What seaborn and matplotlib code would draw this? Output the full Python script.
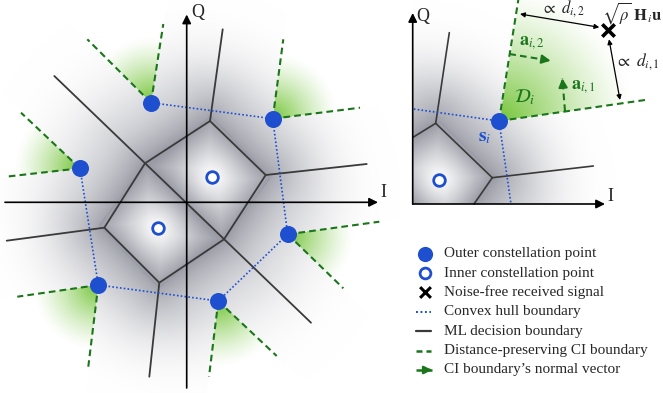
import numpy as np
import matplotlib
matplotlib.use("Agg")
import matplotlib.pyplot as plt
import seaborn as sns
import pandas as pd

sns.set_theme(style="white")
plt.rcParams["font.family"] = ["Liberation Serif", "DejaVu Serif"]
plt.rcParams["mathtext.fontset"] = "stix"

# ---------------- constellation (left panel, I/Q units) ----------------
outer_i = [-35.7, 86.0, -106.7, 101.0, -88.4, 31.6]
outer_q = [99.6, 83.6, 34.0, -32.0, -82.7, -98.7]
inner_i = [25.6, -29.0]
inner_q = [25.6, -26.0]
hull_order = [0, 1, 3, 5, 4, 2, 0]

# ML decision boundaries: inner hexagon, the splitting diagonal, outward rays
hex_i = [23.3, 79.0, 37.3, -27.4, -82.4, -41.7]
hex_q = [81.3, 27.3, -37.0, -80.4, -25.4, 39.0]
diag_i = [-132.4, 124.3]
diag_q = [126.3, -120.4]
ray_from = [0, 1, 3, 4]
ray_end_i = [36.0, 180.0, -37.4, -180.0]
ray_end_q = [173.0, 38.3, -174.4, -38.4]

# distance-preserving CI boundaries: two rays per outer point
ci_a_i = [-23.4, 96.6, -165.7, 192.6, -169.4, 22.3]
ci_a_q = [178.3, 163.0, 89.6, -19.4, -94.4, -174.4]
ci_b_i = [-99.4, 173.3, -180.7, 156.6, -98.4, 90.0]
ci_b_q = [163.0, 94.6, 25.6, -86.0, -164.4, -153.7]

# ---------------- zoomed view (right panel) ----------------
zs = [86.3, 83.0]
zin = [26.3, 24.0]
z_hull_end_i = [0.6, 98.3]
z_hull_end_q = [95.0, 0.0]
z_v1 = [23.0, 80.7]
z_v2 = [79.6, 26.3]
z_v1_ends = [[36.6, 171.3], [0.3, 66.7]]
z_v2_ends = [[180.6, 38.0], [61.3, 0.0]]
z_ci_ends = [[105.6, 204.0], [232.3, 104.0]]
a2_start, a2_end = [96.6, 150.0], [138.0, 143.3]
a1_start, a1_end = [152.3, 93.0], [149.6, 125.7]
rx = [195.6, 174.0]
d2_arrow = [[107.3, 190.0], [186.6, 176.7]]
d1_arrow = [[196.3, 164.7], [207.3, 104.0]]

legend_labels = [
    "Outer constellation point",
    "Inner constellation point",
    "Noise-free received signal",
    "Convex hull boundary",
    "ML decision boundary",
    "Distance-preserving CI boundary",
    "CI boundary\u2019s normal vector",
]

BLUE = "#1d4fcf"
GREEN = "#1b751b"
GREEN_FILL = np.array([116, 196, 56]) / 255.0
GRAY = np.array([132, 134, 146]) / 255.0
LINE = "#3a3a3a"
HULL_LS = (0, (1.0, 1.3))
CI_LS = (0, (3.2, 2.0))


def smoothstep(x):
    x = np.clip(x, 0, 1)
    return x * x * (3 - 2 * x)


def poly_dist(X, Y, px, py):
    """Euclidean distance from each grid node to a convex polygon (0 inside)."""
    n = len(px)
    dmin = np.full(X.shape, np.inf)
    inside = np.ones(X.shape, bool)
    area = sum(px[k] * py[(k + 1) % n] - px[(k + 1) % n] * py[k] for k in range(n))
    sgn = np.sign(area)
    for k in range(n):
        ax_, ay_ = px[k], py[k]
        bx_, by_ = px[(k + 1) % n], py[(k + 1) % n]
        ex, ey = bx_ - ax_, by_ - ay_
        t = np.clip(((X - ax_) * ex + (Y - ay_) * ey) / (ex * ex + ey * ey), 0, 1)
        dmin = np.minimum(dmin, np.hypot(X - ax_ - t * ex, Y - ay_ - t * ey))
        inside &= sgn * (ex * (Y - ay_) - ey * (X - ax_)) >= 0
    return np.where(inside, 0.0, dmin)


def shade(X, Y, pts, n_inner, core_x, core_y, wedges, g_len,
          out_len=48.0, r_full=110, r_zero=215, amax=0.82):
    """Inner cells: light at the point, grey towards the ML borders.
    Outer cells: grey next to the inner core, fading outwards.
    CI wedges are left white with a green glow from their apex."""
    P = np.asarray(pts, dtype=float)
    D2 = (X[None] - P[:, 0, None, None]) ** 2 + (Y[None] - P[:, 1, None, None]) ** 2
    i1 = D2.argmin(axis=0)
    d1sq = np.take_along_axis(D2, i1[None], axis=0)[0]
    M = np.hypot(P[:, None, 0] - P[None, :, 0], P[:, None, 1] - P[None, :, 1])
    bdist = np.full(X.shape, np.inf)
    for j in range(len(P)):
        with np.errstate(divide="ignore", invalid="ignore"):
            bj = np.where(i1 == j, np.inf, (D2[j] - d1sq) / (2 * M[i1, j]))
        bdist = np.minimum(bdist, bj)
    d1 = np.sqrt(d1sq)
    t_in = (d1 / (d1 + bdist + 1e-9)) ** 1.25
    dh = poly_dist(X, Y, core_x, core_y)
    t_out = np.exp(-dh / out_len)
    dark = np.where(i1 < n_inner, t_in, t_out)
    r = np.hypot(X, Y)
    fade = 1 - smoothstep((r - r_full) / (r_zero - r_full))
    a = amax * dark * fade
    green = np.zeros_like(X)
    for (p, e1, e2) in wedges:
        p = np.asarray(p); u1 = np.asarray(e1) - p; u2 = np.asarray(e2) - p
        vx, vy = X - p[0], Y - p[1]
        det = u1[0] * u2[1] - u1[1] * u2[0]
        ca = (vx * u2[1] - vy * u2[0]) / det
        cb = (u1[0] * vy - u1[1] * vx) / det
        inside = (ca >= 0) & (cb >= 0)
        a = np.where(inside, 0.0, a)
        g = np.clip(1 - np.hypot(vx, vy) / g_len, 0, 1) ** 1.3
        green = np.where(inside, np.maximum(green, g), green)
    img = np.ones(X.shape + (3,))
    img = img * (1 - a[..., None]) + GRAY * a[..., None]
    img = img * (1 - green[..., None]) + GREEN_FILL * green[..., None]
    return np.clip(img, 0, 1)


def arrow_axis(ax, start, end):
    ax.annotate("", xy=end, xytext=start,
                arrowprops=dict(arrowstyle="-|>", color="black", lw=1.2,
                                mutation_scale=13, shrinkA=0, shrinkB=0))


def dashed_arrow(ax, start, end, lw=1.5, ms=13, ls=CI_LS):
    s = np.asarray(start); e = np.asarray(end)
    ax.plot([s[0], e[0]], [s[1], e[1]], color=GREEN, lw=lw, ls=ls)
    ax.annotate("", xy=e, xytext=s + 0.8 * (e - s),
                arrowprops=dict(arrowstyle="-|>", color=GREEN, lw=lw,
                                mutation_scale=ms, shrinkA=0, shrinkB=0))


W, H = 663, 393
fig = plt.figure(figsize=(W / 100, H / 100), dpi=100)

# ============ left panel ============
ox, oy = 186.7, 202.3
axL = fig.add_axes([0, 0, 400 / W, 1])
axL.set_xlim(-ox, 400 - ox)
axL.set_ylim(-(H - oy), oy)
axL.axis("off")

xs = np.linspace(-ox, 400 - ox, 400)
ys = np.linspace(-(H - oy), oy, 393)
X, Y = np.meshgrid(xs, ys)
all_pts = list(zip(inner_i + outer_i, inner_q + outer_q))
wedges = [((outer_i[k], outer_q[k]), (ci_a_i[k], ci_a_q[k]), (ci_b_i[k], ci_b_q[k]))
          for k in range(len(outer_i))]
imgL = shade(X, Y, all_pts, len(inner_i), hex_i, hex_q, wedges, 66)
axL.imshow(imgL, extent=[xs[0], xs[-1], ys[0], ys[-1]], origin="lower",
           interpolation="bilinear", zorder=0, aspect="auto")

# CI boundaries
for k in range(len(outer_i)):
    for ei, eq in ((ci_a_i[k], ci_a_q[k]), (ci_b_i[k], ci_b_q[k])):
        axL.plot([outer_i[k], ei], [outer_q[k], eq], color=GREEN, lw=1.5, ls=CI_LS, zorder=2)

# ML boundaries
axL.plot(hex_i + hex_i[:1], hex_q + hex_q[:1], color=LINE, lw=1.3, zorder=2)
axL.plot(diag_i, diag_q, color=LINE, lw=1.3, zorder=2)
for k, v in enumerate(ray_from):
    axL.plot([hex_i[v], ray_end_i[k]], [hex_q[v], ray_end_q[k]], color=LINE, lw=1.3, zorder=2)

# convex hull
hull_df = pd.DataFrame({"I": [outer_i[k] for k in hull_order],
                        "Q": [outer_q[k] for k in hull_order],
                        "step": range(len(hull_order))})
sns.lineplot(data=hull_df, x="I", y="Q", sort=False, ax=axL, color=BLUE,
             lw=1.2, linestyle=HULL_LS, zorder=3, legend=False)

# axes
arrow_axis(axL, (-181.7, 0), (191.3, 0))
arrow_axis(axL, (0, -185.7), (0, 187.8))
axL.text(11.3, 190.3, "Q", fontsize=13, ha="center", va="center")
axL.text(196.5, 9.5, "I", fontsize=13, ha="center", va="center")

pts_df = pd.DataFrame({"I": outer_i, "Q": outer_q})
sns.scatterplot(data=pts_df, x="I", y="Q", ax=axL, s=150, color=BLUE,
                edgecolor=BLUE, linewidth=0, zorder=5, legend=False)
inn_df = pd.DataFrame({"I": inner_i, "Q": inner_q})
sns.scatterplot(data=inn_df, x="I", y="Q", ax=axL, s=70, facecolor="white",
                edgecolor=BLUE, linewidth=2.0, zorder=5, legend=False)
axL.set_xlabel(""); axL.set_ylabel("")

# ============ right panel ============
rox, roy = 412.7, 204.0
rtop = 215
axR = fig.add_axes([400 / W, (H - rtop) / H, 263 / W, rtop / H])
axR.set_xlim(400 - rox, W - rox)
axR.set_ylim(roy - rtop, roy)
axR.axis("off")


def reflect(p, a, b):
    p, a, b = map(np.asarray, (p, a, b))
    d = (b - a) / np.linalg.norm(b - a)
    v = p - a
    return a + 2 * (v @ d) * d - v


def extend(a, b, k=3.0):
    a, b = np.asarray(a), np.asarray(b)
    return a + k * (b - a)


# neighbouring points implied by the drawn boundaries (reflections)
zpts = [zin, [-zin[0], -zin[1]], zs,
        reflect(zs, z_v1, z_v1_ends[0]), reflect(zin, z_v1, z_v1_ends[1]),
        reflect(zs, z_v2, z_v2_ends[0]), reflect(zin, z_v2, z_v2_ends[1])]
# inner core: region bounded by the V1-V2 edge and its two continuations
pL = extend(z_v1, z_v1_ends[1])
pB = extend(z_v2, z_v2_ends[1])
core_x = [z_v1[0], pL[0], pB[0], z_v2[0]]
core_y = [z_v1[1], pL[1], pB[1], z_v2[1]]
xs2 = np.linspace(0, W - rox, 250)
ys2 = np.linspace(0, roy, 204)
X2, Y2 = np.meshgrid(xs2, ys2)
imgR = shade(X2, Y2, zpts, 2, core_x, core_y, [(zs, z_ci_ends[0], z_ci_ends[1])], 135,
             out_len=52.0, r_full=105, r_zero=205)
axR.imshow(imgR, extent=[xs2[0], xs2[-1], ys2[0], ys2[-1]], origin="lower",
           interpolation="bilinear", zorder=0, aspect="auto")

for e in z_ci_ends:
    axR.plot([zs[0], e[0]], [zs[1], e[1]], color=GREEN, lw=1.5, ls=CI_LS, zorder=2)
for v, ends in ((z_v1, z_v1_ends), (z_v2, z_v2_ends)):
    for e in ends:
        axR.plot([v[0], e[0]], [v[1], e[1]], color=LINE, lw=1.2, zorder=2)
axR.plot([z_v1[0], z_v2[0]], [z_v1[1], z_v2[1]], color=LINE, lw=1.2, zorder=2)
for hi, hq in zip(z_hull_end_i, z_hull_end_q):
    axR.plot([zs[0], hi], [zs[1], hq], color=BLUE, lw=1.2, ls=HULL_LS, zorder=3)

dashed_arrow(axR, a2_start, a2_end)
dashed_arrow(axR, a1_start, a1_end)

for s, e in (d2_arrow, d1_arrow):
    axR.annotate("", xy=e, xytext=s,
                 arrowprops=dict(arrowstyle="<|-|>", color="black", lw=0.9,
                                 mutation_scale=7, shrinkA=0, shrinkB=0))

arrow_axis(axR, (0, 0), (192.3, 0))
arrow_axis(axR, (0, 0), (0, 191.0))
axR.text(10, 188, "Q", fontsize=13, ha="center", va="center")
axR.text(197.5, 7.5, "I", fontsize=13, ha="center", va="center")

sns.scatterplot(x=[zs[0]], y=[zs[1]], ax=axR, s=150, color=BLUE, linewidth=0,
                zorder=5, legend=False)
sns.scatterplot(x=[zin[0]], y=[zin[1]], ax=axR, s=70, facecolor="white",
                edgecolor=BLUE, linewidth=2.0, zorder=5, legend=False)
sns.scatterplot(x=[rx[0]], y=[rx[1]], ax=axR, s=80, marker="x", color="black",
                linewidth=2.6, zorder=5, legend=False)

axR.text(150.3, 195.0, r"$\propto\ d_{i,2}$", fontsize=12, ha="center", va="center")
axR.text(249.0, 191.0, r"$\sqrt{\rho}\ \mathbf{H}_i\mathbf{u}$", fontsize=12,
         ha="right", va="center")
axR.text(224.5, 142, r"$\propto\ d_{i,1}$", fontsize=12.5, ha="center", va="center")
axR.text(119.5, 162, r"$\mathbf{a}_{i,2}$", fontsize=13, color=GREEN, ha="center", va="center")
axR.text(170.5, 118, r"$\mathbf{a}_{i,1}$", fontsize=13, color=GREEN, ha="center", va="center")
axR.text(112.5, 107, r"$\mathcal{D}_i$", fontsize=14, color=GREEN, ha="center", va="center")
axR.text(72.5, 67, r"$\mathbf{s}_i$", fontsize=14, color=BLUE, ha="center", va="center")

# ============ legend ============
axG = fig.add_axes([400 / W, 0, 263 / W, 163 / H])
axG.set_xlim(400, W)
axG.set_ylim(H, 230)
axG.axis("off")
rows = [254.0, 273.3, 292.3, 311.7, 331.0, 350.7, 370.0]
mx, x0, x1 = 425, 415.5, 430.5
LEG_DASH = (0, (2.4, 1.6))
axG.scatter([mx], [rows[0]], s=120, color=BLUE, linewidth=0)
axG.scatter([mx], [rows[1]], s=60, facecolor="white", edgecolor=BLUE, linewidth=2.0)
axG.scatter([mx], [rows[2]], s=60, marker="x", color="black", linewidth=2.2)
axG.plot([x0, x1], [rows[3]] * 2, color=BLUE, lw=1.4, ls=HULL_LS)
axG.plot([x0, x1], [rows[4]] * 2, color=LINE, lw=1.6)
axG.plot([x0, x1], [rows[5]] * 2, color=GREEN, lw=1.8, ls=LEG_DASH)
dashed_arrow(axG, (x0, rows[6]), (x1 + 1.5, rows[6]), lw=1.8, ms=11, ls=LEG_DASH)
for y, lab in zip(rows, legend_labels):
    axG.text(444.5, y, lab, fontsize=11, ha="left", va="center")

fig.savefig("out.png", dpi=100)
